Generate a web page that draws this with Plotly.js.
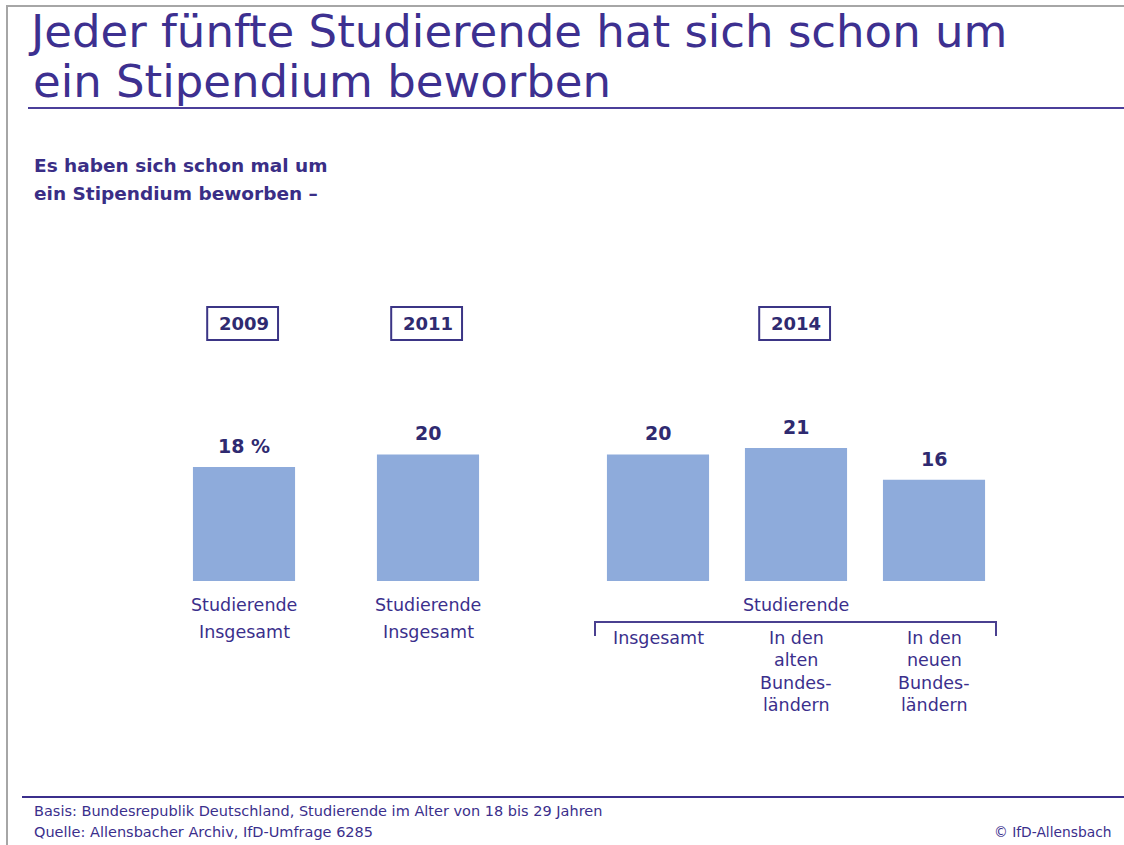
<!DOCTYPE html>
<html><head><meta charset="utf-8">
<script src="https://cdn.plot.ly/plotly-3.0.1.min.js"></script>
<style>html,body{margin:0;padding:0;background:#fff}#chart{width:1124px;height:845px}</style>
</head><body><div id="chart"></div>
<script>
// ---- data ----
const years = ['2009', '2011', '2014'];
const values = [18, 20, 20, 21, 16];
const valueLabels = ['18 %', '20', '20', '21', '16'];
const barLabels = ['Studierende<br>Insgesamt', 'Studierende<br>Insgesamt', 'Insgesamt', 'In den<br>alten<br>Bundes-<br>ländern', 'In den<br>neuen<br>Bundes-<br>ländern'];
const groupLabel = 'Studierende';
const titleLines = ['Jeder fünfte Studierende hat sich schon um', 'ein Stipendium beworben'];
const subtitleLines = ['Es haben sich schon mal um', 'ein Stipendium beworben –'];
const footLines = ['Basis: Bundesrepublik Deutschland, Studierende im Alter von 18 bis 29 Jahren', 'Quelle: Allensbacher Archiv, IfD-Umfrage 6285'];
const copyright = '© IfD-Allensbach';

// ---- layout constants ----
const W = 1124, H = 845;
const xPos = [1, 5, 10, 13, 16];        // bar slots
const yearSlot = [0, 1, 3];             // which bar each year box sits over
const purple = '#3b2f8c';
const barColor = '#8eabdb';
const FONT = 'DejaVu Sans, sans-serif';
const px = x => x / W;
const py = y => 1 - y / H;

const annotations = [];
const shapes = [];

// title second line
annotations.push({x: px(31), y: py(81), xref: 'paper', yref: 'paper', xanchor: 'left', yanchor: 'middle',
  text: titleLines[1], showarrow: false, font: {family: FONT, size: 45, color: '#3d3090'}});

// value labels
values.forEach((v, i) => annotations.push({
  x: xPos[i], y: v, xref: 'x', yref: 'y', text: '<b>' + valueLabels[i] + '</b>',
  showarrow: false, yanchor: 'bottom', yshift: 8,
  font: {family: FONT, size: 19, color: '#2f2a70'}
}));

// bar labels below
barLabels.forEach((lab, i) => {
  const lines = lab.split('<br>');
  const top = i < 2 ? 605 : 638;
  const step = i < 2 ? 27 : 22.3;
  lines.forEach((ln, j) => annotations.push({
    x: xPos[i], xref: 'x', y: py(top + j * step), yref: 'paper', text: ln,
    showarrow: false, yanchor: 'middle',
    font: {family: FONT, size: 17.5, color: purple}
  }));
});

// group label + bracket
annotations.push({x: xPos[3], xref: 'x', y: py(605), yref: 'paper', text: groupLabel, showarrow: false,
  yanchor: 'middle', font: {family: FONT, size: 17.5, color: purple}});
shapes.push({type: 'path', xref: 'paper', yref: 'paper',
  path: `M ${px(595)} ${py(636)} L ${px(595)} ${py(622)} L ${px(996)} ${py(622)} L ${px(996)} ${py(636)}`,
  line: {color: '#4a4090', width: 2}});

// year boxes
years.forEach((yr, k) => {
  const xc = xPos[yearSlot[k]];
  annotations.push({x: xc, xref: 'x', y: py(323.5), yref: 'paper', text: '<b>' + yr + '</b>', showarrow: false,
    yanchor: 'middle', font: {family: FONT, size: 18, color: '#2f2a70'}});
  shapes.push({type: 'rect', xref: 'x', yref: 'paper', x0: xc - 0.8, x1: xc + 0.74, y0: py(307), y1: py(340),
    line: {color: '#3b3585', width: 2}});
});

// subtitle
subtitleLines.forEach((t, j) => annotations.push({x: px(32), y: py(166 + j * 27), xref: 'paper', yref: 'paper',
  xanchor: 'left', yanchor: 'middle', text: '<b>' + t + '</b>', showarrow: false,
  font: {family: FONT, size: 18.5, color: '#3a2e86'}}));

// footer
footLines.forEach((t, j) => annotations.push({x: px(32), y: py(811 + j * 21), xref: 'paper', yref: 'paper',
  xanchor: 'left', yanchor: 'middle', text: t, showarrow: false, font: {family: FONT, size: 14.5, color: purple}}));
annotations.push({x: px(1113), y: py(832), xref: 'paper', yref: 'paper', xanchor: 'right', yanchor: 'middle',
  text: copyright, showarrow: false, font: {family: FONT, size: 13.8, color: purple}});

// rules & frame
shapes.push({type: 'line', xref: 'paper', yref: 'paper', x0: px(28), x1: 1, y0: py(108), y1: py(108), line: {color: '#4b3f9a', width: 2}});
shapes.push({type: 'line', xref: 'paper', yref: 'paper', x0: px(22), x1: 1, y0: py(797), y1: py(797), line: {color: '#3b2f8c', width: 2}});
shapes.push({type: 'path', xref: 'paper', yref: 'paper', path: `M ${px(7)} 0 L ${px(7)} ${py(6)} L 1 ${py(6)}`, line: {color: '#a6a6a6', width: 2}});

const trace = {
  type: 'bar', x: xPos, y: values, width: 2.22,
  marker: {color: barColor, line: {width: 0}},
  hoverinfo: 'skip'
};

const yScale = 6.33;
const layout = {
  width: W, height: H,
  margin: {l: 0, r: 0, t: 0, b: 0, pad: 0},
  paper_bgcolor: '#fff', plot_bgcolor: '#fff',
  showlegend: false,
  title: {text: titleLines[0], x: 31 / W, xanchor: 'left', xref: 'container', y: 1 - 31 / H, yanchor: 'middle', yref: 'container',
    font: {family: FONT, size: 45, color: '#3d3090'}},
  xaxis: {range: [-198 / 46, (W - 198) / 46], visible: false, fixedrange: true},
  yaxis: {range: [-(H - 581) / yScale, 581 / yScale], visible: false, fixedrange: true},
  annotations, shapes
};
Plotly.newPlot('chart', [trace], layout, {displayModeBar: false, staticPlot: true});
</script></body></html>
